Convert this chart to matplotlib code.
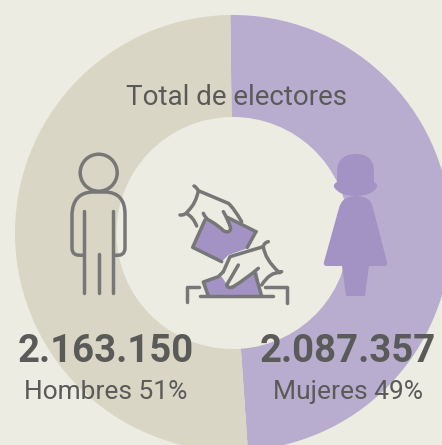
import matplotlib
matplotlib.use("Agg")
import matplotlib.pyplot as plt
from matplotlib.path import Path
from matplotlib.patches import PathPatch, Circle

labels = ["Mujeres 49%", "Hombres 51%"]
values = [2087357, 2163150]
value_text = ["2.087.357", "2.163.150"]
colors = ["#b8adcf", "#d9d6c6"]
BG = "#ecece3"
INK = "#5a5a58"
GREY = "#777777"
PURPLE = "#a393c4"
W, H = 442, 445
plt.rcParams["font.family"] = ["Roboto", "DejaVu Sans"]

fig = plt.figure(figsize=(W / 100, H / 100), dpi=100, facecolor=BG)
ax = fig.add_axes([0, 0, 1, 1])
ax.pie(values, colors=colors, startangle=90.7, counterclock=False, center=(233, H - 233),
       radius=218, wedgeprops=dict(width=102, linewidth=0))
ax.set_xlim(0, W); ax.set_ylim(0, H)
ax.set_aspect("equal")
ax.add_patch(Circle((232, H - 233), 115.5, fc=BG, ec="none", zorder=2))


def svg(d, ox=0, oy=0, k=1):
    """tiny M/L/Q/Z path parser, in picture pixels (y down)"""
    n = {"M": (1, Path.MOVETO), "L": (1, Path.LINETO), "Q": (2, Path.CURVE3)}
    tok = d.split(); i = 0; vs = []; cs = []
    while i < len(tok):
        c = tok[i]; i += 1
        if c == "Z":
            vs.append((0, 0)); cs.append(Path.CLOSEPOLY); continue
        for _ in range(n[c][0]):
            vs.append((ox + float(tok[i]) * k, H - (oy + float(tok[i + 1]) * k))); i += 2
            cs.append(n[c][1])
    return Path(vs, cs)


def draw(d, fc="none", ec=GREY, lw=2.5, z=3, **kw):
    ax.add_patch(PathPatch(svg(d, **kw), fc=fc, ec=ec, lw=lw, zorder=z, capstyle="round", joinstyle="round"))


# man
ax.add_patch(Circle((98.7, H - 172.7), 18.5, fc="none", ec=GREY, lw=2.5, zorder=3))
draw("M 84 255 Q 72 257 72 248 L 72 214 Q 73 193 92 192 L 106 192 Q 125 193 125 214 L 125 248 Q 125 257 114 255")
for d in ["M 84.3 211 L 84.3 293", "M 112.7 211 L 112.7 293", "M 98.7 254 L 98.7 293"]:
    draw(d)

# woman
draw("M 337 172 Q 337 154 356 154 Q 374 154 374 172 L 374 182 Q 378 184 377 187 Q 372 196 356 196 "
     "Q 339 196 334 187 Q 333 184 337 182 Z", fc=PURPLE, ec="none", lw=0)
draw("M 356 196 Q 371 196 373 208 L 387 262 Q 388 266 384 266 L 369 266 L 365 296 L 346 296 L 342 266 "
     "L 327 266 Q 323 266 324 262 L 339 208 Q 342 196 356 196 Z", fc=PURPLE, ec="none", lw=0)

# ballot icon, traced in 3x zoom units
bal = dict(ox=170, oy=170, k=1 / 3)
draw("M 105 150 L 125 158 L 158 182 L 180 188 L 183 165 L 172 142 L 258 185 L 232 235 L 175 255 L 155 275 L 68 232 Z",
     fc=PURPLE, ec="none", lw=0, **bal)
draw("M 105 150 L 68 232 L 155 275", **bal)
draw("M 258 185 L 232 232", **bal)
draw("M 172 142 L 258 185", **bal)
draw("M 72 48 Q 78 50 85 62 Q 78 100 55 122 Q 45 137 30 135", **bal)
draw("M 85 62 L 175 100 Q 190 112 215 155", **bal)
draw("M 52 132 Q 70 142 80 168", **bal)
draw("M 100 130 Q 108 148 120 152 Q 150 170 160 182 Q 180 192 182 175 Q 175 150 160 125", **bal)
draw("M 100 338 L 155 320 L 175 350 L 205 340 L 262 305 L 275 378 L 115 378 Z", fc=PURPLE, ec="none", lw=0, **bal)
draw("M 295 215 Q 282 218 280 230 L 180 260 L 160 305", **bal)
draw("M 160 305 L 145 320 L 100 336 L 115 378", **bal)
draw("M 280 230 Q 285 268 325 305 Q 330 306 335 305", **bal)
draw("M 330 308 Q 300 305 275 345", **bal)
draw("M 205 285 Q 185 320 170 345 Q 175 358 190 350 Q 230 325 265 295", **bal)
draw("M 255 310 L 275 378", **bal)
draw("M 90 378 L 310 378", **bal)
draw("M 50 395 L 50 350 L 88 350", **bal)
draw("M 285 350 L 350 350 L 350 398", **bal)

ax.text(236, H - 105, "Total de electores", fontsize=20, color=INK, ha="center", va="baseline", zorder=5)
for x, big, small in [(348, value_text[0], labels[0]), (106, value_text[1], labels[1])]:
    ax.text(x, H - 362, big, fontsize=27.5, fontweight="bold", color=INK, ha="center", va="baseline", zorder=5)
    ax.text(x, H - 399, small, fontsize=19, color=INK, ha="center", va="baseline", zorder=5)

fig.savefig("out.png", dpi=100, facecolor=BG)
